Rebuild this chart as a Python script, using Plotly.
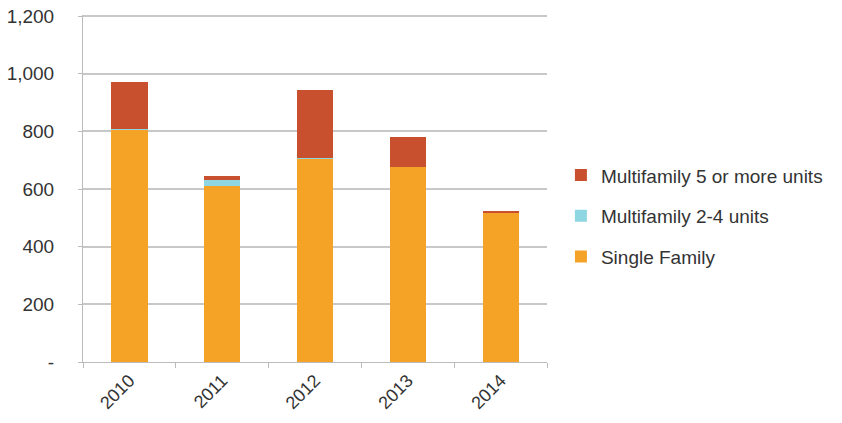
import plotly.graph_objects as go

years = ["2010", "2011", "2012", "2013", "2014"]
single_family = [805, 612, 705, 677, 517]
multi_2_4 = [5, 21, 2, 1, 1]
multi_5_plus = [163, 12, 237, 103, 7]

y_tickvals = [0, 200, 400, 600, 800, 1000, 1200]
y_ticktext = ["-", "200", "400", "600", "800", "1,000", "1,200"]

colors = {"sf": "#F5A326", "m24": "#8FD6E3", "m5": "#C9502E"}

fig = go.Figure()
fig.add_trace(go.Bar(x=years, y=single_family, name="Single Family",
                     marker=dict(color=colors["sf"], line=dict(width=0)),
                     legendgroup="a", legendrank=3))
fig.add_trace(go.Bar(x=years, y=multi_2_4, name="Multifamily 2-4 units",
                     marker=dict(color=colors["m24"], line=dict(width=0)),
                     legendgroup="b", legendrank=2))
fig.add_trace(go.Bar(x=years, y=multi_5_plus, name="Multifamily 5 or more units",
                     marker=dict(color=colors["m5"], line=dict(width=0)),
                     legendgroup="c", legendrank=1))

font_family = "Liberation Sans, Arial, sans-serif"
fig.update_layout(
    barmode="stack",
    bargap=0.61,
    width=842, height=423,
    margin=dict(l=83, r=295, t=15, b=61, autoexpand=False),
    paper_bgcolor="white", plot_bgcolor="white",
    font=dict(family=font_family, size=19, color="#333333"),
    showlegend=True,
    legend=dict(x=1.03, y=0.42, xanchor="left", yanchor="middle",
                traceorder="grouped", tracegroupgap=13,
                font=dict(size=19, color="#333333"),
                itemwidth=30, bgcolor="rgba(0,0,0,0)"),
    xaxis=dict(showline=True, linecolor="#BBBBBB", linewidth=1,
               ticks="outside", tickson="boundaries", ticklen=5, tickcolor="#BBBBBB",
               tickangle=-45, tickfont=dict(size=18, color="#333333"),
               showgrid=False, automargin=False),
    yaxis=dict(range=[0, 1204], tickvals=y_tickvals, ticktext=y_ticktext,
               showline=True, linecolor="#BBBBBB", linewidth=1,
               ticks="outside", ticklen=4, tickcolor="#BBBBBB",
               showgrid=True, gridcolor="#C8C8C8", gridwidth=1.5,
               tickfont=dict(size=19, color="#333333"),
               ticklabelstandoff=20, ticklabeloverflow="allow",
               zeroline=False, automargin=False),
)

fig.write_html("out.html", config={"displayModeBar": False},
               post_script="document.body.style.margin='0';")
